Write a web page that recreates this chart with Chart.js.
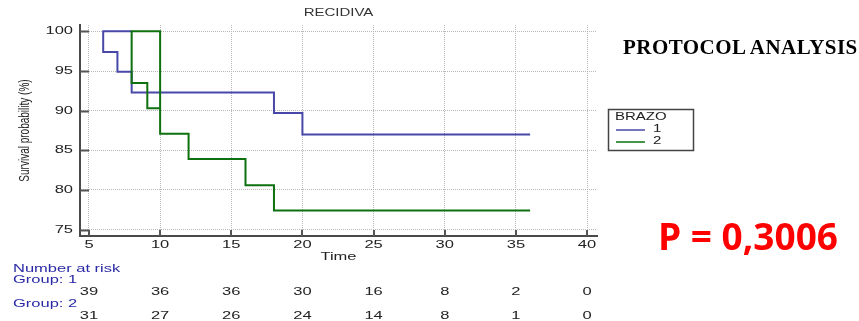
<!DOCTYPE html>
<html>
<head>
<meta charset="utf-8">
<script src="https://cdn.jsdelivr.net/npm/chart.js@4.4.1/dist/chart.umd.min.js"></script>
<style>
  html, body { margin: 0; padding: 0; background: #fff; }
  #wrap { position: relative; width: 859px; height: 321px; overflow: hidden; }
  canvas { position: absolute; left: 0; top: 0; }
  .protocol { position: absolute; left: 623px; top: 37px; font: bold 21px/21px "Liberation Serif", "Times New Roman", serif; letter-spacing: 0.45px; color: #000; white-space: nowrap; }
  .pvalue { position: absolute; left: 658px; top: 217px; font: bold 37px/37px "Open Sans", sans-serif; color: #f00; white-space: nowrap; }
</style>
</head>
<body>
<div id="wrap">
  <canvas id="km" width="859" height="321"></canvas>
  <div class="protocol">PROTOCOL ANALYSIS</div>
  <div class="pvalue">P = 0,3006</div>
</div>
<script>
const xTicks = [5, 10, 15, 20, 25, 30, 35, 40];
const yTicks = [75, 80, 85, 90, 95, 100];

// step curves (time, survival %)
const group1Times = [8, 6, 6, 7, 8, 18, 20, 36];
const group1Surv = [100, 100, 97.4, 94.9, 92.3, 89.7, 87.0, 87.0];
const group2Times = [10, 10, 8, 8, 9.1, 10, 12, 16, 18, 36];
const group2Surv = [90.3, 100, 100, 93.5, 90.3, 87.1, 83.9, 80.6, 77.4, 77.4];

const riskGroup1 = [39, 36, 36, 30, 16, 8, 2, 0];
const riskGroup2 = [31, 27, 26, 24, 14, 8, 1, 0];

const FONT = '"Liberation Sans", Arial, sans-serif';
const BLUE = '#4848a8';
const GREEN = '#0e700e';
const SX = 1.5; // the original text is stretched sideways

const canvas = document.getElementById('km');
const ctx = canvas.getContext('2d');
const rawFill = ctx.fillText;
ctx.fillText = function (text, x, y) {
  this.save();
  this.translate(x, y);
  this.scale(SX, 1);
  rawFill.call(this, text, 0, 0);
  this.restore();
};

function toPoints(times, surv) {
  return times.map((t, i) => ({ x: t, y: surv[i] }));
}

const kmExtras = {
  id: 'kmExtras',
  afterDraw(chart) {
    const c = chart.ctx;
    const xs = chart.scales.x;
    const ys = chart.scales.y;
    const area = chart.chartArea;

    // inward tick marks
    c.save();
    c.strokeStyle = '#555';
    c.lineWidth = 2;
    c.beginPath();
    yTicks.forEach(v => {
      const py = Math.round(ys.getPixelForValue(v)) + 0.5;
      c.moveTo(area.left, py);
      c.lineTo(area.left + 9, py);
    });
    xTicks.forEach(v => {
      const px = Math.round(xs.getPixelForValue(v));
      c.moveTo(px, area.bottom);
      c.lineTo(px, area.bottom - 6);
    });
    c.stroke();

    // axis titles
    c.fillStyle = '#222';
    c.font = '10px ' + FONT;
    c.textAlign = 'center';
    c.textBaseline = 'middle';
    c.save();
    c.translate(25, (area.top + area.bottom) / 2);
    c.scale(SX, 1);
    c.rotate(-Math.PI / 2);
    rawFill.call(c, 'Survival probability (%)', 0, 0);
    c.restore();

    c.font = '11px ' + FONT;
    c.fillText('Time', (area.left + area.right) / 2, 257);

    // number at risk table
    c.textAlign = 'left';
    c.fillStyle = '#2a2aa6';
    c.fillText('Number at risk', 13, 269);
    c.fillText('Group: 1', 13, 280);
    c.fillText('Group: 2', 13, 304);
    c.textAlign = 'center';
    c.fillStyle = '#222';
    xTicks.forEach((t, i) => {
      const px = xs.getPixelForValue(t);
      c.fillText(String(riskGroup1[i]), px, 292);
      c.fillText(String(riskGroup2[i]), px, 316);
    });

    // legend box
    c.strokeStyle = '#444';
    c.lineWidth = 1.5;
    c.strokeRect(608.5, 109.5, 85, 41);
    c.font = '10px ' + FONT;
    c.textAlign = 'left';
    c.fillText('BRAZO', 615, 117);
    chart.data.datasets.forEach((ds, i) => {
      const ly = 130 + i * 12;
      c.strokeStyle = ds.borderColor;
      c.lineWidth = 1.5;
      c.beginPath();
      c.moveTo(616, ly);
      c.lineTo(645, ly);
      c.stroke();
      c.fillStyle = '#222';
      c.fillText(ds.label, 653, ly - 1);
    });
    c.restore();
  }
};

new Chart(ctx, {
  type: 'line',
  data: {
    datasets: [
      {
        label: '1',
        data: toPoints(group1Times, group1Surv),
        borderColor: BLUE,
        borderWidth: 2,
        stepped: 'before',
        pointRadius: 0,
        fill: false,
        order: 2
      },
      {
        label: '2',
        data: toPoints(group2Times, group2Surv),
        borderColor: GREEN,
        borderWidth: 2,
        stepped: 'before',
        pointRadius: 0,
        fill: false,
        order: 1
      }
    ]
  },
  options: {
    responsive: false,
    animation: false,
    devicePixelRatio: 1,
    layout: { padding: { left: 0, right: 262, top: 0, bottom: 0 } },
    plugins: {
      legend: { display: false },
      tooltip: { enabled: false },
      title: {
        display: true,
        text: 'RECIDIVA',
        fullSize: false,
        color: '#333',
        font: { family: FONT, size: 10, weight: 'normal' },
        padding: { top: 7, bottom: 6 }
      }
    },
    scales: {
      x: {
        type: 'linear',
        min: 4.37,
        max: 40.7,
        afterBuildTicks: s => { s.ticks = xTicks.map(v => ({ value: v })); },
        afterFit: s => { s.height = 85; },
        grid: { color: '#b8b8b8', drawTicks: false, lineWidth: 1 },
        border: { display: true, color: '#4a4a4a', width: 2, dash: [1, 1] },
        ticks: { color: '#222', padding: 2, font: { family: FONT, size: 11 }, maxRotation: 0 }
      },
      y: {
        type: 'linear',
        min: 74.2,
        max: 100.8,
        afterBuildTicks: s => { s.ticks = yTicks.map(v => ({ value: v })); },
        afterFit: s => { s.width = 80; },
        grid: { color: '#b8b8b8', drawTicks: false, lineWidth: 1 },
        border: { display: true, color: '#4a4a4a', width: 2, dash: [1, 1] },
        ticks: { color: '#222', padding: 7, font: { family: FONT, size: 11 } }
      }
    }
  },
  plugins: [kmExtras]
});
</script>
</body>
</html>
